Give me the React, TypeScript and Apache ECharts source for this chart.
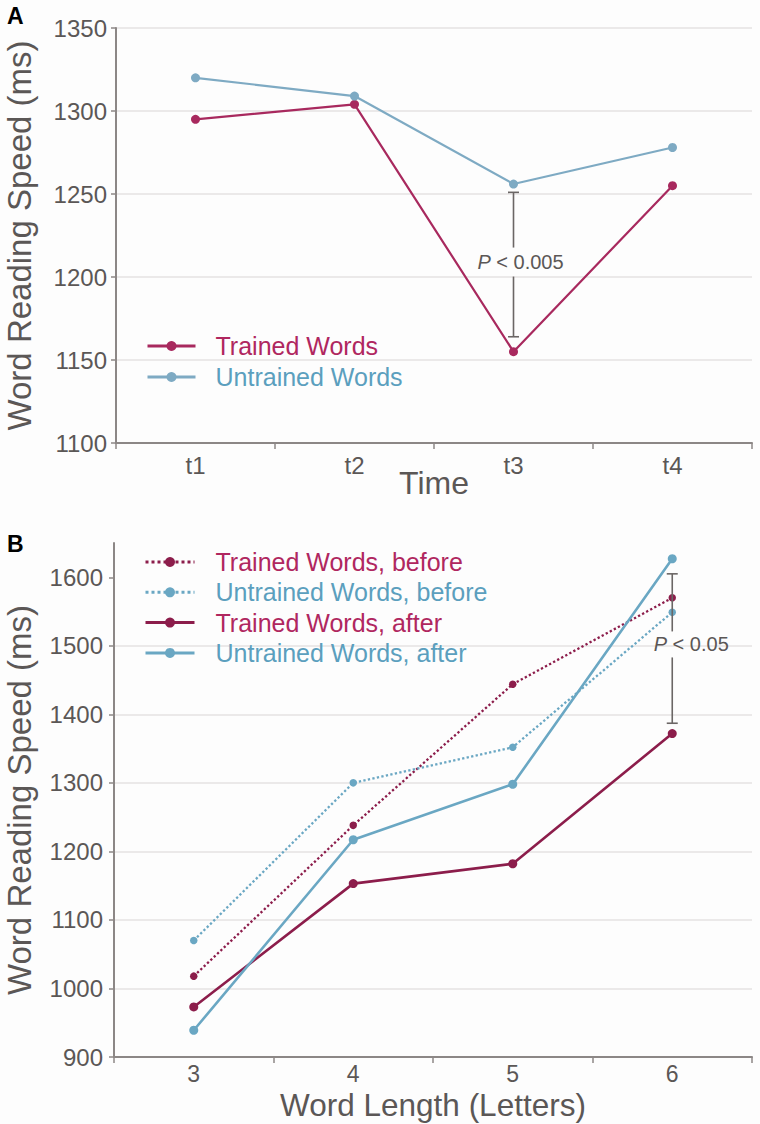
import React, { useEffect, useRef } from "react";
import * as echarts from "echarts";

// ---- Data ----
const timePoints = ["t1", "t2", "t3", "t4"];
const trainedA = [1295, 1304, 1155, 1255];
const untrainedA = [1320, 1309, 1256, 1278];
const yTicksA = [1100, 1150, 1200, 1250, 1300, 1350];

const wordLengths = ["3", "4", "5", "6"];
const trainedBefore = [1018, 1238, 1444, 1570];
const untrainedBefore = [1070, 1300, 1352, 1549];
const trainedAfter = [973, 1153, 1182, 1372];
const untrainedAfter = [939, 1217, 1298, 1627];
const yTicksB = [900, 1000, 1100, 1200, 1300, 1400, 1500, 1600];

// error bars: [category, low, high, label position]
const errA = [["t3", 1164, 1251, 1209]];
const errB = [["6", 1387, 1605, 1502]];
const pLabelA = "0.005";
const pLabelB = "0.05";

const FONT = "'Liberation Sans', Arial, Helvetica, sans-serif";
const GREY = "#5b5756";
const AXIS = "#8c8786";
const GRID = "#e4e2e2";
const TR_LINE_A = "#a8295e";
const UN_LINE_A = "#7eaac3";
const TR_LINE_B = "#8c1d4b";
const UN_LINE_B = "#6aa7c3";
const TR_TEXT = "#b0275f";
const UN_TEXT = "#5b9fbe";

function makeErr(textDx: number, gapHalf: number, pval: string) {
  return (params: any, api: any) => {
    const c = api.value(0);
    const lo = api.coord([c, api.value(1)]);
    const hi = api.coord([c, api.value(2)]);
    const mid = api.coord([c, api.value(3)]);
    const x = lo[0];
    const cap = 5.5;
    const st = { stroke: "#6b6665", lineWidth: 1.6 };
    return {
      type: "group",
      children: [
        { type: "line", shape: { x1: x, y1: hi[1], x2: x, y2: mid[1] - gapHalf }, style: st },
        { type: "line", shape: { x1: x, y1: mid[1] + gapHalf, x2: x, y2: lo[1] }, style: st },
        { type: "line", shape: { x1: x - cap, y1: hi[1], x2: x + cap, y2: hi[1] }, style: st },
        { type: "line", shape: { x1: x - cap, y1: lo[1], x2: x + cap, y2: lo[1] }, style: st },
        {
          type: "text",
          x: x + textDx,
          y: mid[1],
          style: {
            text: "{i|P}{n| < " + pval + "}",
            align: "center",
            verticalAlign: "middle",
            fill: GREY,
            fontSize: 20,
            fontFamily: FONT,
            rich: {
              i: { fontStyle: "italic", fontSize: 20, fontFamily: FONT, fill: GREY },
              n: { fontSize: 20, fontFamily: FONT, fill: GREY },
            },
          },
        },
      ],
    };
  };
}

export default function App() {
  const ref = useRef<HTMLDivElement>(null);
  useEffect(() => {
    if (!ref.current) return;
    const chart = echarts.init(ref.current, null, { renderer: "svg" });

    const yAxisCommon = (min: number, max: number, interval: number, ticks: number[], labelMargin: number, nameGap: number) => ({
      type: "value",
      min,
      max,
      interval,
      name: "Word Reading Speed (ms)",
      nameLocation: "middle",
      nameRotate: 90,
      nameGap,
      nameMoveOverlap: false,
      nameTextStyle: { fontSize: 33, color: GREY, fontFamily: FONT },
      axisLine: { show: true, lineStyle: { color: AXIS, width: 2 } },
      axisTick: { show: true, length: 5, lineStyle: { color: AXIS, width: 1.5 }, customValues: ticks },
      axisLabel: {
        fontSize: 24,
        color: GREY,
        fontFamily: FONT,
        margin: labelMargin,
        customValues: ticks,
        formatter: (v: number) => String(v),
      },
      splitLine: { show: true, showMaxLine: true, lineStyle: { color: GRID, width: 1.5 } },
    });

    const xAxisCommon = (
      cats: string[],
      name: string,
      nameGap: number,
      nameSize: number,
      labelMargin: number,
      labelSize: number
    ) => ({
      type: "category",
      data: cats,
      boundaryGap: true,
      name,
      nameLocation: "middle",
      nameGap,
      nameMoveOverlap: false,
      nameTextStyle: { fontSize: nameSize, lineHeight: 28, color: GREY, fontFamily: FONT },
      axisLine: { show: true, lineStyle: { color: AXIS, width: 2 } },
      axisTick: { show: true, length: 6, lineStyle: { color: AXIS, width: 1.5 } },
      axisLabel: { fontSize: labelSize, lineHeight: 20, color: GREY, fontFamily: FONT, margin: labelMargin },
      splitLine: { show: false },
    });

    const yA = yAxisCommon(1100, 1350, 50, yTicksA, 9, 80);
    const yB: any = yAxisCommon(900, 1650, 100, yTicksB, 11, 78);
    yB.gridIndex = 1;
    yB.splitLine.showMaxLine = false;

    const xA: any = xAxisCommon(timePoints, "Time", 26, 32, 12, 24);
    const xB: any = xAxisCommon(wordLengths, "Word Length (Letters)", 33.5, 31.5, 7, 23);
    xB.gridIndex = 1;

    const option: any = {
      animation: false,
      backgroundColor: "#fdfdfd",
      textStyle: { fontFamily: FONT },
      grid: [
        { left: 116, right: 8, top: 28, height: 415, outerBoundsMode: "none", containLabel: false },
        { left: 114, right: 8, top: 543, height: 514, outerBoundsMode: "none", containLabel: false },
      ],
      xAxis: [xA, xB],
      yAxis: [yA, yB],
      legend: [
        {
          orient: "vertical",
          left: 141,
          top: 328.5,
          itemWidth: 48,
          itemHeight: 12.5,
          itemGap: 6,
          selectedMode: false,
          lineStyle: { width: 3 },
          textStyle: { fontSize: 25, fontFamily: FONT, padding: [0, 0, 0, 15] },
          data: [
            { name: "Trained Words", textStyle: { color: TR_TEXT } },
            { name: "Untrained Words", textStyle: { color: UN_TEXT } },
          ],
        },
        {
          orient: "vertical",
          left: 139,
          top: 544.5,
          itemWidth: 49,
          itemHeight: 12.5,
          itemGap: 5.3,
          selectedMode: false,
          lineStyle: { width: 3 },
          textStyle: { fontSize: 25, fontFamily: FONT, padding: [0, 0, 0, 16] },
          data: [
            { name: "Trained Words, before", textStyle: { color: TR_TEXT } },
            { name: "Untrained Words, before", textStyle: { color: UN_TEXT } },
            { name: "Trained Words, after", textStyle: { color: TR_TEXT } },
            { name: "Untrained Words, after", textStyle: { color: UN_TEXT } },
          ],
        },
      ],
      graphic: [
        { type: "text", left: 7, top: 4, style: { text: "A", fontSize: 23, fontWeight: "bold", fill: "#000", fontFamily: FONT } },
        { type: "text", left: 7, top: 532, style: { text: "B", fontSize: 23, fontWeight: "bold", fill: "#000", fontFamily: FONT } },
      ],
      series: [
        {
          name: "Trained Words",
          type: "line",
          xAxisIndex: 0,
          yAxisIndex: 0,
          data: trainedA,
          symbol: "circle",
          symbolSize: 9,
          color: TR_LINE_A,
          lineStyle: { width: 2.2, color: TR_LINE_A },
          itemStyle: { color: TR_LINE_A },
        },
        {
          name: "Untrained Words",
          type: "line",
          xAxisIndex: 0,
          yAxisIndex: 0,
          data: untrainedA,
          symbol: "circle",
          symbolSize: 9,
          color: UN_LINE_A,
          lineStyle: { width: 2.2, color: UN_LINE_A },
          itemStyle: { color: UN_LINE_A },
        },
        {
          type: "custom",
          xAxisIndex: 0,
          yAxisIndex: 0,
          data: errA,
          renderItem: makeErr(7, 14.5, pLabelA),
          z: 5,
        },
        {
          name: "Trained Words, before",
          type: "line",
          xAxisIndex: 1,
          yAxisIndex: 1,
          data: trainedBefore,
          symbol: "circle",
          symbolSize: 7.5,
          color: TR_LINE_B,
          lineStyle: { width: 2.3, color: TR_LINE_B, type: "dotted" },
          itemStyle: { color: TR_LINE_B },
        },
        {
          name: "Untrained Words, before",
          type: "line",
          xAxisIndex: 1,
          yAxisIndex: 1,
          data: untrainedBefore,
          symbol: "circle",
          symbolSize: 7.5,
          color: UN_LINE_B,
          lineStyle: { width: 2.3, color: UN_LINE_B, type: "dotted" },
          itemStyle: { color: UN_LINE_B },
        },
        {
          name: "Trained Words, after",
          type: "line",
          xAxisIndex: 1,
          yAxisIndex: 1,
          data: trainedAfter,
          symbol: "circle",
          symbolSize: 9,
          color: TR_LINE_B,
          lineStyle: { width: 2.6, color: TR_LINE_B },
          itemStyle: { color: TR_LINE_B },
        },
        {
          name: "Untrained Words, after",
          type: "line",
          xAxisIndex: 1,
          yAxisIndex: 1,
          data: untrainedAfter,
          symbol: "circle",
          symbolSize: 9,
          color: UN_LINE_B,
          lineStyle: { width: 2.6, color: UN_LINE_B },
          itemStyle: { color: UN_LINE_B },
        },
        {
          type: "custom",
          xAxisIndex: 1,
          yAxisIndex: 1,
          data: errB,
          renderItem: makeErr(19, 13, pLabelB),
          z: 5,
        },
      ],
    };
    chart.setOption(option);
    return () => chart.dispose();
  }, []);

  return (
    <div
      ref={ref}
      style={{ position: "absolute", left: 0, top: 0, width: 760, height: 1124 }}
    />
  );
}
